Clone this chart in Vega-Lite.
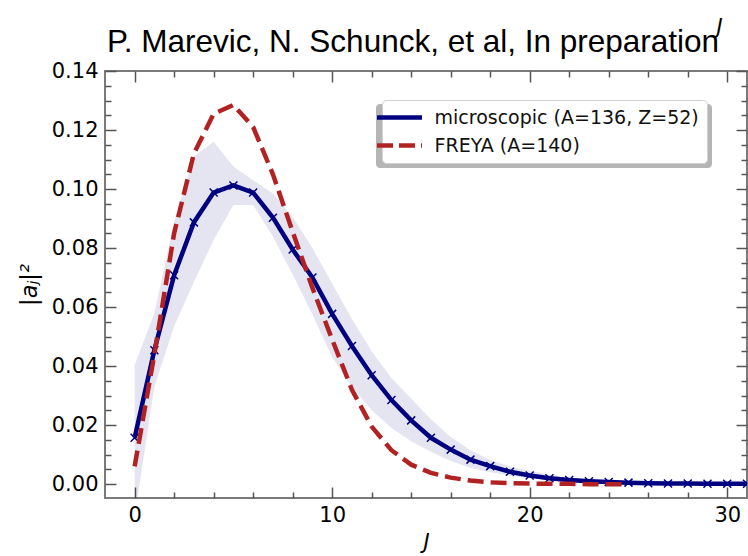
{
  "$schema": "https://vega.github.io/schema/vega-lite/v6.json",
  "width": 642,
  "height": 427,
  "autosize": "none",
  "padding": {"left": 105, "top": 71, "right": 1, "bottom": 58},
  "background": "white",
  "title": {
    "text": "P. Marevic, N. Schunck, et al, In preparation",
    "font": "Liberation Sans",
    "fontSize": 31.5,
    "fontWeight": "normal",
    "color": "black",
    "anchor": "middle",
    "frame": "group",
    "baseline": "alphabetic",
    "offset": 17,
    "dx": -13,
    "dy": 84
  },
  "config": {
    "view": {"stroke": "#7a7a7a", "strokeWidth": 2},
    "axis": {
      "domain": false,
      "grid": false,
      "labelFont": "DejaVu Sans",
      "labelFontSize": 21,
      "labelColor": "black",
      "tickColor": "#555555",
      "tickWidth": 1.5,
      "titleFont": "DejaVu Sans",
      "titleFontSize": 21,
      "titleFontWeight": "normal",
      "titleColor": "black"
    }
  },
  "data": {
    "values": [
      {"J": 0, "micro": 0.0157, "lo": -0.011, "hi": 0.0403, "freya": 0.006},
      {"J": 1, "micro": 0.0454, "lo": 0.033, "hi": 0.058, "freya": 0.044},
      {"J": 2, "micro": 0.0708, "lo": 0.0535, "hi": 0.089, "freya": 0.085},
      {"J": 3, "micro": 0.0887, "lo": 0.0685, "hi": 0.111, "freya": 0.112},
      {"J": 4, "micro": 0.0988, "lo": 0.0827, "hi": 0.116, "freya": 0.1255},
      {"J": 5, "micro": 0.1012, "lo": 0.0946, "hi": 0.1076, "freya": 0.1285},
      {"J": 6, "micro": 0.0988, "lo": 0.0946, "hi": 0.103, "freya": 0.121},
      {"J": 7, "micro": 0.0903, "lo": 0.0838, "hi": 0.0985, "freya": 0.105},
      {"J": 8, "micro": 0.0795, "lo": 0.071, "hi": 0.0905, "freya": 0.0855},
      {"J": 9, "micro": 0.07, "lo": 0.0575, "hi": 0.08, "freya": 0.0665},
      {"J": 10, "micro": 0.0577, "lo": 0.043, "hi": 0.068, "freya": 0.049},
      {"J": 11, "micro": 0.0468, "lo": 0.033, "hi": 0.056, "freya": 0.032},
      {"J": 12, "micro": 0.0369, "lo": 0.025, "hi": 0.045, "freya": 0.0195},
      {"J": 13, "micro": 0.0285, "lo": 0.019, "hi": 0.036, "freya": 0.0115},
      {"J": 14, "micro": 0.0216, "lo": 0.0145, "hi": 0.029, "freya": 0.0066},
      {"J": 15, "micro": 0.0157, "lo": 0.011, "hi": 0.022, "freya": 0.0038},
      {"J": 16, "micro": 0.0117, "lo": 0.0078, "hi": 0.016, "freya": 0.0022},
      {"J": 17, "micro": 0.0083, "lo": 0.0055, "hi": 0.0115, "freya": 0.0012},
      {"J": 18, "micro": 0.0061, "lo": 0.004, "hi": 0.0082, "freya": 0.0006},
      {"J": 19, "micro": 0.0042, "lo": 0.0028, "hi": 0.006, "freya": 0.0003},
      {"J": 20, "micro": 0.0029, "lo": 0.002, "hi": 0.0045, "freya": 0.0002},
      {"J": 21, "micro": 0.002, "lo": 0.0014, "hi": 0.0032, "freya": 0.0001},
      {"J": 22, "micro": 0.0014, "lo": 0.001, "hi": 0.0022, "freya": 0.0001},
      {"J": 23, "micro": 0.001, "lo": 0.0007, "hi": 0.0015, "freya": 0},
      {"J": 24, "micro": 0.0007, "lo": 0.0005, "hi": 0.0011, "freya": 0},
      {"J": 25, "micro": 0.0005, "lo": 0.0003, "hi": 0.0008, "freya": 0},
      {"J": 26, "micro": 0.0003, "lo": 0.0002, "hi": 0.0006, "freya": null},
      {"J": 27, "micro": 0.0002, "lo": 0.0001, "hi": 0.0004, "freya": null},
      {"J": 28, "micro": 0.0002, "lo": 0.0001, "hi": 0.0003, "freya": null},
      {"J": 29, "micro": 0.0001, "lo": 0.0001, "hi": 0.0002, "freya": null},
      {"J": 30, "micro": 0.0001, "lo": 0, "hi": 0.0002, "freya": null},
      {"J": 31, "micro": 0.0001, "lo": 0, "hi": 0.0001, "freya": null}
    ]
  },
  "resolve": {"axis": {"x": "independent", "y": "independent"}},
  "layer": [
    {
      "mark": {"type": "square", "opacity": 0, "clip": true},
      "encoding": {
        "x": {"field": "J", "type": "quantitative", "scale": {"domain": [-1.5, 31], "nice": false, "zero": false}, "axis": null},
        "y": {"field": "micro", "type": "quantitative", "scale": {"domain": [-0.0047, 0.14], "nice": false, "zero": false}, "axis": null},
        "fill": {
          "datum": "shadow",
          "scale": {"domain": ["shadow"], "range": ["#b5b5b5"]},
          "legend": {
            "orient": "none", "legendX": 271, "legendY": 33,
            "title": null,
            "labelExpr": "''",
            "labelFontSize": 1, "labelOffset": 0,
            "symbolType": "M-1,-1L31.1,-1L31.1,3.9L-1,3.9Z", "symbolSize": 400, "symbolOpacity": 0,
            "padding": 7,
            "fillColor": "#b5b5b5", "cornerRadius": 4
          }
        }
      }
    },
    {
      "mark": {"type": "area", "color": "#000080", "opacity": 0.1, "clip": true},
      "encoding": {
        "x": {
          "field": "J", "type": "quantitative",
          "scale": {"domain": [-1.5, 31], "nice": false, "zero": false},
          "axis": {
            "orient": "bottom", "title": "J", "titleFontStyle": "italic", "titlePadding": 6,
            "values": [0, 2, 4, 6, 8, 10, 12, 14, 16, 18, 20, 22, 24, 26, 28, 30],
            "labelExpr": "datum.value % 10 === 0 ? datum.label : ''",
            "tickSize": {"condition": {"test": "datum.value % 10 === 0", "value": -11}, "value": -6},
            "labelPadding": 17
          }
        },
        "y": {
          "field": "lo", "type": "quantitative",
          "scale": {"domain": [-0.0047, 0.14], "nice": false, "zero": false},
          "axis": {
            "orient": "left", "title": "|aⱼ|²", "titleFontStyle": "italic", "titleFontSize": 22.5, "titlePadding": 10,
            "values": [0, 0.005, 0.01, 0.015, 0.02, 0.025, 0.03, 0.035, 0.04, 0.045, 0.05, 0.055, 0.06, 0.065, 0.07, 0.075, 0.08, 0.085, 0.09, 0.095, 0.1, 0.105, 0.11, 0.115, 0.12, 0.125, 0.13, 0.135, 0.14],
            "labelExpr": "abs(datum.value * 50 - round(datum.value * 50)) < 1e-6 ? format(datum.value, '.2f') : ''",
            "tickSize": {"condition": {"test": "abs(datum.value * 50 - round(datum.value * 50)) < 1e-6", "value": -11}, "value": -6},
            "labelPadding": 18
          }
        },
        "y2": {"field": "hi"}
      }
    },
    {
      "mark": {"type": "line", "strokeWidth": 4.5, "clip": true},
      "encoding": {
        "x": {
          "field": "J", "type": "quantitative",
          "axis": {
            "orient": "top", "labels": false,
            "title": "J", "titleFontStyle": "italic", "titleBaseline": "alphabetic", "titleAnchor": null,
            "titleX": 614, "titleY": -38,
            "values": [0, 2, 4, 6, 8, 10, 12, 14, 16, 18, 20, 22, 24, 26, 28, 30],
            "tickSize": {"condition": {"test": "datum.value % 10 === 0", "value": -11}, "value": -6}
          }
        },
        "y": {
          "field": "micro", "type": "quantitative",
          "axis": {
            "orient": "right", "title": null, "labels": false,
            "values": [0, 0.005, 0.01, 0.015, 0.02, 0.025, 0.03, 0.035, 0.04, 0.045, 0.05, 0.055, 0.06, 0.065, 0.07, 0.075, 0.08, 0.085, 0.09, 0.095, 0.1, 0.105, 0.11, 0.115, 0.12, 0.125, 0.13, 0.135, 0.14],
            "tickSize": {"condition": {"test": "abs(datum.value * 50 - round(datum.value * 50)) < 1e-6", "value": -11}, "value": -6}
          }
        },
        "stroke": {
          "datum": "microscopic (A=136, Z=52)",
          "scale": {"domain": ["microscopic (A=136, Z=52)", "FREYA (A=140)"], "range": ["#000080", "#b22222"]},
          "legend": {
            "orient": "none", "legendX": 277, "legendY": 29,
            "title": null,
            "labelFont": "DejaVu Sans", "labelFontSize": 19, "labelColor": "#111111", "labelLimit": 400,
            "symbolType": "M-3,0L3,0", "symbolSize": 225, "symbolStrokeWidth": 4.5,
            "labelOffset": 25, "rowPadding": 8, "padding": 7.5,
            "fillColor": "white", "strokeColor": "#d0d0d0", "cornerRadius": 4,
            "encode": {"symbols": {"update": {"strokeDash": {"signal": "datum.value === 'FREYA (A=140)' ? [16, 6] : [1, 0]"}}}}
          }
        }
      }
    },
    {
      "mark": {"type": "point", "shape": "M-1,-1L1,1M-1,1L1,-1", "size": 64, "filled": false, "color": "#000080", "strokeWidth": 1.5, "opacity": 1, "clip": true},
      "encoding": {
        "x": {"field": "J", "type": "quantitative", "axis": null},
        "y": {"field": "micro", "type": "quantitative", "axis": null}
      }
    },
    {
      "transform": [{"filter": "datum.freya !== null"}],
      "mark": {"type": "line", "strokeWidth": 4.5, "strokeDash": [16, 7], "clip": true},
      "encoding": {
        "x": {"field": "J", "type": "quantitative", "axis": null},
        "y": {"field": "freya", "type": "quantitative", "axis": null},
        "stroke": {"datum": "FREYA (A=140)"}
      }
    }
  ]
}
